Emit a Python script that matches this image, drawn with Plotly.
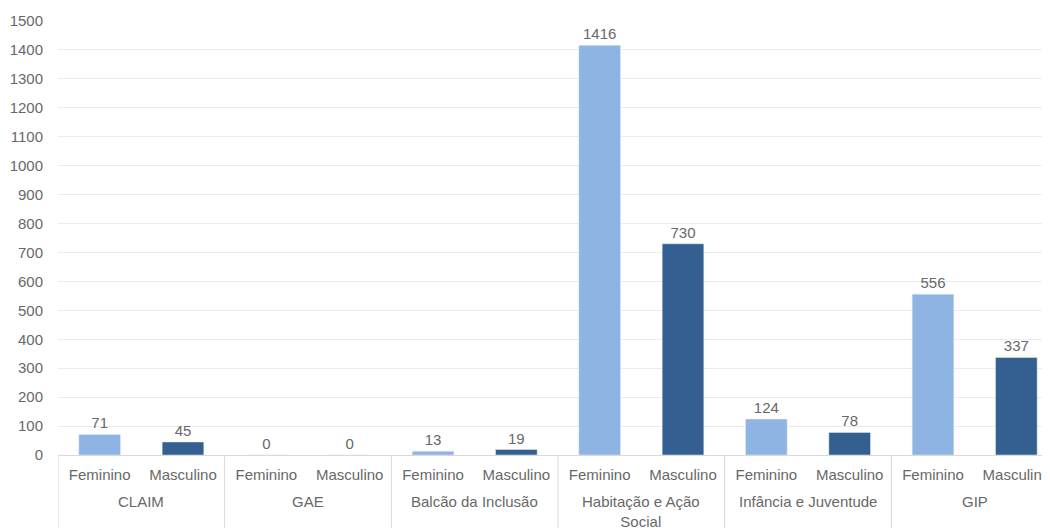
import plotly.graph_objects as go

groups = ["CLAIM", "GAE", "Balcão da Inclusão", "Habitação e Ação<br>Social", "Infância e Juventude", "GIP"]
genders = ["Feminino", "Masculino"]
feminino = [71, 0, 13, 1416, 124, 556]
masculino = [45, 0, 19, 730, 78, 337]

TXT = "#686868"
cats = [f"{g}|{s}" for g in groups for s in genders]
fem_x = [f"{g}|Feminino" for g in groups]
mas_x = [f"{g}|Masculino" for g in groups]

fig = go.Figure()
fig.add_trace(go.Bar(
    x=fem_x, y=feminino, name="Feminino",
    marker_color="#8EB4E3", width=0.5,
    text=[str(v) for v in feminino], textposition="outside",
    textfont=dict(color=TXT, size=15), cliponaxis=False,
))
fig.add_trace(go.Bar(
    x=mas_x, y=masculino, name="Masculino",
    marker_color="#336090", width=0.5,
    text=[str(v) for v in masculino], textposition="outside",
    textfont=dict(color=TXT, size=15), cliponaxis=False,
))

# group labels and dividers
for i, g in enumerate(groups):
    fig.add_annotation(x=2 * i + 0.5, y=0, xref="x", yref="paper",
                       text=g, showarrow=False, yanchor="top", yshift=-36,
                       font=dict(size=15, color=TXT), align="center")
for i in range(len(groups) + 1):
    fig.add_shape(type="line", x0=2 * i - 0.5, x1=2 * i - 0.5, xref="x",
                  y0=0, y1=-0.17, yref="paper",
                  line=dict(color="#D9D9D9", width=1))

fig.update_layout(
    width=1050, height=528,
    margin=dict(l=50, r=0, t=13, b=81),
    barmode="overlay",
    showlegend=False,
    plot_bgcolor="white", paper_bgcolor="white",
    font=dict(family="Liberation Sans, Arial, sans-serif", size=15, color=TXT),
    yaxis=dict(range=[0, 1500], dtick=100, showgrid=True, gridcolor="#EBEBEB",
               zeroline=False, automargin=False,
               ticks="outside", ticklen=11, tickcolor="rgba(0,0,0,0)",
               tickfont=dict(size=15, color=TXT)),
    xaxis=dict(type="category", categoryorder="array", categoryarray=cats,
               tickvals=cats, ticktext=[s for g in groups for s in genders],
               range=[-0.5, len(cats) - 0.5],
               showline=True, linecolor="#D9D9D9", automargin=False,
               ticks="outside", ticklen=6, tickcolor="rgba(0,0,0,0)",
               tickfont=dict(size=15, color=TXT)),
)
fig.write_html("out.html")
